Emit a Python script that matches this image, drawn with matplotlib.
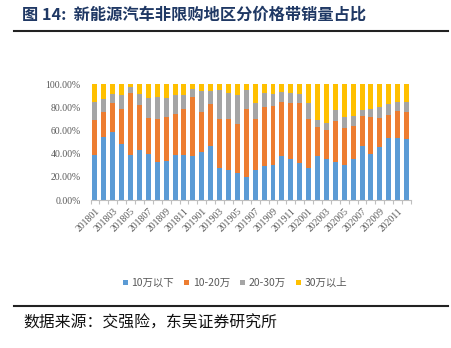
import matplotlib
matplotlib.use("Agg")
import matplotlib.pyplot as plt
from matplotlib.patches import Patch
from matplotlib.lines import Line2D
import numpy as np

months = [f"{y}{m:02d}" for y in (2018, 2019, 2020) for m in range(1, 13)]
series_names = ["10万以下", "10-20万", "20-30万", "30万以上"]
below10 = [39, 54.5, 58.5, 48.5, 38.5, 43.5, 40, 32.7, 33.8, 39, 38.8, 38.2,
           41.2, 46.8, 27.6, 25.7, 23, 19.5, 26.1, 29.4, 29.9, 37.7, 35.1, 31.7,
           27.9, 37.8, 35.1, 33, 30.2, 35.6, 46.6, 39.9, 45.3, 53.4, 53.8, 52.2]
p10_20 = [30, 21.3, 25.5, 30.2, 53.5, 38.3, 31, 37.3, 38, 35.1, 39.6, 50.4,
          34.4, 36, 42.4, 44, 42.8, 58.8, 43.4, 50.8, 51.4, 46.8, 48.9, 51.8,
          41.6, 24.8, 25.4, 35.3, 32.2, 28.4, 26, 31.7, 25.4, 20.2, 22.5, 23.6]
p20_30 = [15.3, 11.2, 7.7, 11.8, 5, 9.9, 16.6, 18.5, 15.8, 16.4, 12.4, 6.9,
          18.1, 11.5, 25, 22.4, 24.5, 16.1, 13.8, 11.7, 10.5, 9, 8.4, 8.3,
          14.1, 6.4, 6.2, 9.3, 9.1, 8, 5.3, 6.6, 9.5, 9.4, 8.2, 8.4]
above30 = [15.7, 13, 8.3, 9.5, 3, 8.3, 12.4, 11.5, 12.4, 9.5, 9.2, 4.5,
           6.3, 5.7, 5, 7.9, 9.7, 5.6, 16.7, 8.1, 8.2, 6.5, 7.6, 8.2,
           16.4, 31, 33.3, 22.4, 28.5, 28, 22.1, 21.8, 19.8, 17, 15.5, 15.8]
yticklabels = ["0.00%", "20.00%", "40.00%", "60.00%", "80.00%", "100.00%"]

colors = ["#5B9BD5", "#ED7D31", "#A5A5A5", "#FFC000"]
title = "图 14:  新能源汽车非限购地区分价格带销量占比"
source = "数据来源：交强险，东吴证券研究所"

W, H = 451, 348
fig = plt.figure(figsize=(W / 100, H / 100), dpi=100)
fig.patch.set_facecolor("white")

ax = fig.add_axes([90.5 / W, (H - 200) / H, (411 - 90.5) / W, (200 - 84) / H])

x = np.arange(len(months))
data = [np.array(below10), np.array(p10_20), np.array(p20_30), np.array(above30)]
bottom = np.zeros(len(months))
for vals, col in zip(data, colors):
    ax.bar(x, vals / 100, bottom=bottom / 100, width=0.56, color=col, linewidth=0)
    bottom += vals

ax.set_xlim(-0.5, len(months) - 0.5)
ax.set_ylim(0, 1.0)
ax.set_yticks(np.linspace(0, 1, 6))
ax.set_yticklabels(yticklabels, fontfamily="Liberation Serif", fontsize=7, color="#595959")
ax.tick_params(axis="y", length=0, pad=7)

ax.set_xticks(x[::2])
ax.set_xticklabels(months[::2], rotation=45, ha="right", rotation_mode="anchor",
                   fontfamily="Liberation Serif", fontsize=7, color="#595959")
ax.set_xticks(np.arange(-0.5, len(months), 1.0), minor=True)
ax.tick_params(axis="x", which="major", length=0, pad=5)
ax.tick_params(axis="x", which="minor", length=3, color="#BFBFBF", width=0.8)

for s in ["top", "right", "left"]:
    ax.spines[s].set_visible(False)
ax.spines["bottom"].set_color("#BFBFBF")
ax.spines["bottom"].set_linewidth(0.8)

handles = [Patch(facecolor=c, edgecolor="none") for c in colors]
fig.legend(handles, series_names, loc="center", bbox_to_anchor=(235 / W, (H - 283) / H),
           ncol=4, frameon=False, handlelength=0.45, handleheight=0.45,
           handletextpad=0.35, columnspacing=1.0,
           prop={"family": ["Noto Sans CJK SC", "DejaVu Sans"], "size": 7.5},
           labelcolor="#595959")

fig.text(22 / W, (H - 15) / H, title, fontsize=11.7, fontweight="bold", color="#1F3864",
         family=["Noto Sans CJK SC", "DejaVu Sans"], va="center", ha="left")
fig.add_artist(Line2D([14 / W, 448 / W], [(H - 31) / H, (H - 31) / H], color="#222222", lw=1.5))
fig.add_artist(Line2D([14 / W, 448 / W], [(H - 306) / H, (H - 306) / H], color="#222222", lw=1.5))
fig.text(23 / W, (H - 323) / H, source, fontsize=11.4, color="#111111",
         family=["Noto Sans CJK SC", "DejaVu Sans"], va="center", ha="left")

fig.savefig("out.png", dpi=100)
